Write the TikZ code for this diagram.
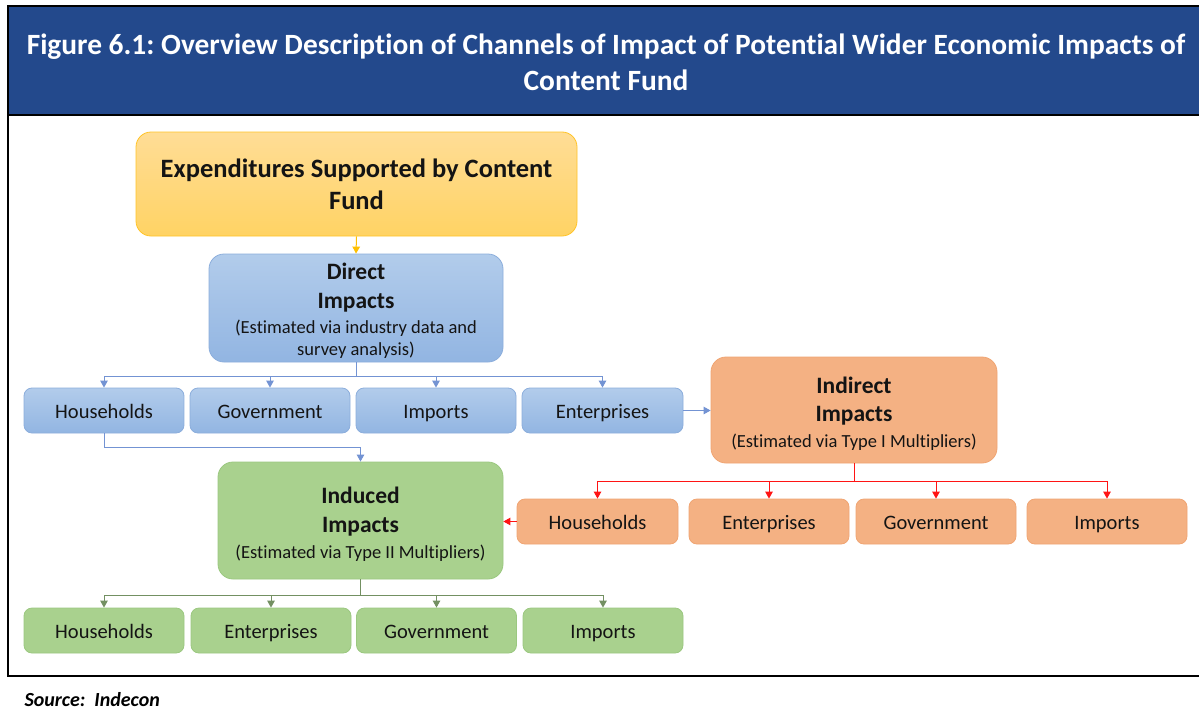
\documentclass[tikz,border=0pt]{standalone}
\usepackage{fontspec}
\setmainfont{Carlito}[Ligatures=NoCommon]
\usetikzlibrary{arrows.meta}
\frenchspacing
\definecolor{hdrblue}{RGB}{35,73,140}
\definecolor{ytop}{RGB}{255,221,150}
\definecolor{ybot}{RGB}{255,211,100}
\definecolor{yline}{RGB}{255,196,40}
\definecolor{btop}{RGB}{178,204,235}
\definecolor{bbot}{RGB}{146,181,226}
\definecolor{bline}{RGB}{140,174,220}
\definecolor{ofill}{RGB}{244,177,131}
\definecolor{oline}{RGB}{240,165,115}
\definecolor{gfill}{RGB}{169,209,142}
\definecolor{gline}{RGB}{155,200,128}
\definecolor{cblue}{RGB}{80,120,200}
\definecolor{cred}{RGB}{255,20,20}
\definecolor{cgreen}{RGB}{90,125,70}
\definecolor{cyellow}{RGB}{255,192,0}
\definecolor{txt}{RGB}{20,20,20}
\newcommand{\subline}[1]{{\fontsize{18.5}{22}\selectfont #1}}
\newcommand{\topstrut}[1]{\rule{0pt}{#1}}
\tikzset{
  box/.style={draw, line width=0.8pt, inner sep=0pt, align=center, text=txt},
  bigbox/.style={box, rounded corners=15pt, font=\bfseries\fontsize{23.5}{29}\selectfont},
  smallbox/.style={box, rounded corners=8pt, minimum width=160pt, minimum height=45pt,
    font=\fontsize{20.5}{24}\selectfont, text height=19pt, text depth=4pt},
  yellowbox/.style={box, rounded corners=15pt, draw=yline, top color=ytop, bottom color=ybot},
  bluebox/.style={draw=bline, top color=btop, bottom color=bbot},
  orangebox/.style={draw=oline, fill=ofill},
  greenbox/.style={draw=gline, fill=gfill},
  tip/.style={-{Triangle[length=7pt,width=7.5pt]}},
  bconn/.style={draw=cblue!80, line width=1pt},
  rconn/.style={draw=cred, line width=1pt},
  gconn/.style={draw=cgreen!85, line width=1pt},
  yconn/.style={draw=cyellow, line width=1pt},
}
\begin{document}
\begin{tikzpicture}[x=1pt, y=-1pt]
\useasboundingbox (0,0) rectangle (1199,709);
\fill[white] (0,0) rectangle (1199,709);

% header band and frame
\fill[hdrblue] (8,6) rectangle (1199,115);
\draw[line width=2.5pt] (1199,6) -- (8,6) -- (8,676) -- (1199,676);
\draw[line width=2.5pt] (8,115) -- (1199,115);
\node[text=white, font=\bfseries\fontsize{29.4}{36}\selectfont, align=center] (title) at (606,62)
  {Figure 6.1: Overview Description of Channels of Impact of Potential Wider Economic Impacts of\\Content Fund};

% top level
\node[yellowbox, minimum width=441pt, minimum height=104pt,
  font=\bfseries\fontsize{26.5}{32}\selectfont] (exp) at (356.5,184)
  {Expenditures Supported by Content\\Fund};

% direct impacts
\node[bigbox, bluebox, minimum width=294pt, minimum height=108pt] (direct) at (356,308)
  {\topstrut{22pt}Direct\\ Impacts\\[-4pt]
   \subline{\mdseries (Estimated via industry data and}\\[-7pt]
   \subline{\mdseries survey analysis)}};

\node[smallbox, bluebox] (dh) at (104,410.5) {Households};
\node[smallbox, bluebox] (dg) at (270,410.5) {Government};
\node[smallbox, bluebox] (di) at (436,410.5) {Imports};
\node[smallbox, bluebox, minimum width=161pt] (de) at (602.5,410.5) {Enterprises};

% indirect impacts
\node[bigbox, orangebox, minimum width=286pt, minimum height=106pt] (indirect) at (854,410)
  {\topstrut{24pt}Indirect\\[-1pt] Impacts\\[-3pt]
   \subline{\mdseries (Estimated via Type I Multipliers)}};

\node[smallbox, orangebox, minimum width=161pt] (oh) at (597.5,521.5) {Households};
\node[smallbox, orangebox] (oe) at (769,521.5) {Enterprises};
\node[smallbox, orangebox] (og) at (936,521.5) {Government};
\node[smallbox, orangebox] (oi) at (1107,521.5) {Imports};

% induced impacts
\node[bigbox, greenbox, minimum width=285pt, minimum height=117pt] (induced) at (360.5,520.5)
  {\topstrut{24pt}Induced\\ Impacts\\[-3pt]
   \subline{\mdseries (Estimated via Type II Multipliers)}};

\node[smallbox, greenbox] (gh) at (104,630.5) {Households};
\node[smallbox, greenbox] (ge) at (271,630.5) {Enterprises};
\node[smallbox, greenbox] (gg) at (436.5,630.5) {Government};
\node[smallbox, greenbox] (gi) at (603,630.5) {Imports};

% junction points of the branching connectors
\coordinate (dbus) at (356,376);
\coordinate (hbus) at (104,447);
\coordinate (rbus) at (854,481);
\coordinate (gbus) at (360.5,595);

% connectors
\draw[yconn, tip] (exp.south) -- (direct.north);

\draw[bconn] (direct.south) -- (dbus);
\draw[bconn, tip] (dbus) -| (dh.north);
\draw[bconn, tip] (dbus) -| (dg.north);
\draw[bconn, tip] (dbus) -| (di.north);
\draw[bconn, tip] (dbus) -| (de.north);
\draw[bconn] (dh.south) -- (hbus);
\draw[bconn, tip] (hbus) -| (induced.north);
\draw[bconn, tip] (de.east) -- (indirect.west |- de.east);

\draw[rconn] (indirect.south) -- (rbus);
\draw[rconn, tip] (rbus) -| (oh.north);
\draw[rconn, tip] (rbus) -| (oe.north);
\draw[rconn, tip] (rbus) -| (og.north);
\draw[rconn, tip] (rbus) -| (oi.north);
\draw[rconn, tip] (oh.west) -- (induced.east |- oh.west);

\draw[gconn] (induced.south) -- (gbus);
\draw[gconn, tip] (gbus) -| (gh.north);
\draw[gconn, tip] (gbus) -| (ge.north);
\draw[gconn, tip] (gbus) -| (gg.north);
\draw[gconn, tip] (gbus) -| (gi.north);

% source line
\node[anchor=base west, font=\bfseries\itshape\fontsize{20}{24}\selectfont] (src) at (21,706)
  {Source:\ \ Indecon};
\end{tikzpicture}
\end{document}
